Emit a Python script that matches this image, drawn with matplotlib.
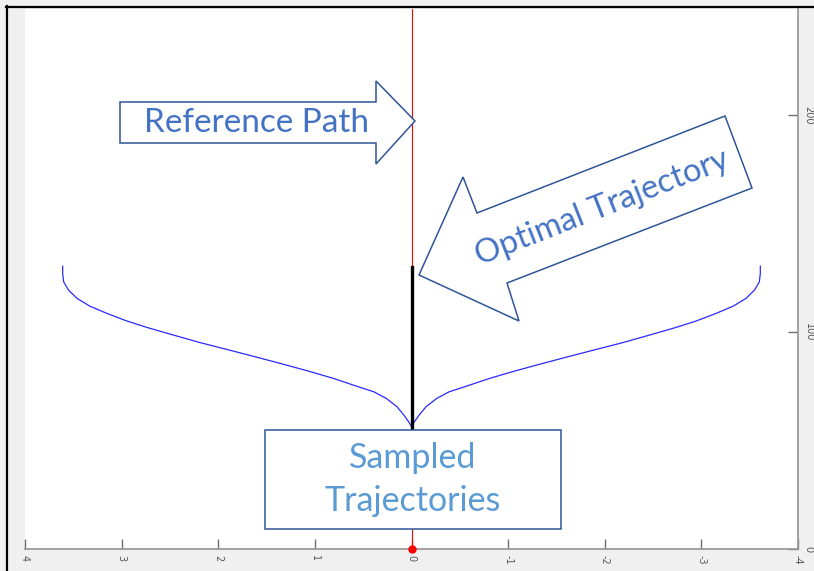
"""Sampling-based planner sketch: reference path, optimal and sampled trajectories."""
import matplotlib
matplotlib.use("Agg")
import matplotlib.pyplot as plt  # noqa: E402
from matplotlib.patches import Polygon, Rectangle  # noqa: E402

# data (lateral offset x, longitudinal distance y)
ref_x = [0, 0]
ref_y = [0, 260]
opt_x = [0, 0]
opt_y = [56, 130]
left_x = [3.61, 3.61, 3.60, 3.55, 3.46, 3.33, 3.15, 2.95, 2.74, 2.46, 2.19, 1.91,
          1.64, 1.36, 1.08, 0.81, 0.57, 0.39, 0.26, 0.15, 0.08, 0.03, 0.0]
left_y = [130.4, 127.0, 123.2, 119.4, 115.5, 112.0, 108.6, 105.2, 102.2, 98.6, 95.2, 92.0,
          88.9, 85.6, 82.2, 78.7, 75.1, 72.5, 69.4, 65.6, 61.8, 58.7, 56.5]
right_x = [-v for v in left_x]
right_y = list(left_y)
x_ticks = [4, 3, 2, 1, 0, -1, -2, -3, -4]
y_ticks = [0, 100, 200]

W, H = 814, 571
fig = plt.figure(figsize=(W / 100, H / 100), dpi=100, facecolor="#f0f0f0")

ax = fig.add_axes([25 / W, (H - 549) / H, (798 - 25) / W, (549 - 9) / H])
ax.set_facecolor("white")
ax.plot(ref_x, ref_y, color="red", lw=0.8, zorder=2)
ax.plot(left_x, left_y, color="#2a2aff", lw=0.9, zorder=2)
ax.plot(right_x, right_y, color="#2a2aff", lw=0.9, zorder=2)
ax.plot(opt_x, opt_y, color="black", lw=2.4, zorder=3)
ax.plot([ref_x[0]], [ref_y[0]], "o", color="red", ms=5, zorder=5, clip_on=False)
ax.set_xlim(4, -4)
ax.set_ylim(0, 249)
ax.set_xticks(x_ticks)
ax.set_xticklabels([str(t) for t in x_ticks], rotation=-90)
ax.yaxis.tick_right()
ax.set_yticks(y_ticks)
ax.set_yticklabels([str(t) for t in y_ticks], rotation=-90, va="center")
ax.tick_params(direction="in", length=7, width=1, color="#707070",
               labelcolor="#555555", labelsize=7, pad=4)
for side in ("top", "left"):
    ax.spines[side].set_visible(False)
for side in ("bottom", "right"):
    ax.spines[side].set_color("#9a9a9a")
    ax.spines[side].set_linewidth(1.3)

# callout shapes drawn in screen pixels on top of the plot
ov = fig.add_axes([0, 0, 1, 1], zorder=10)
ov.set_xlim(0, W)
ov.set_ylim(H, 0)
ov.axis("off")
ov.patch.set_alpha(0)

edge = "#2f5597"
font = "Lato"
ov.add_patch(Polygon([(120, 102), (376, 102), (376, 81), (415, 121), (376, 164),
                      (376, 143), (120, 143)], closed=True, fc="white", ec=edge, lw=1.1))
ov.text(257, 123, "Reference Path", color="#4472c4", fontsize=24, family=font,
        ha="center", va="center")

ov.add_patch(Polygon([(419, 275), (463, 177), (477, 213), (725, 116), (752, 188),
                      (507, 283), (519, 321)], closed=True, fc="white", ec=edge, lw=1.1))
ov.text(602, 208, "Optimal Trajectory", color="#4472c4", fontsize=23.5, family=font,
        ha="center", va="center", rotation=21.4, rotation_mode="anchor")

ov.add_patch(Rectangle((265, 430), 296, 99, fc="white", ec=edge, lw=1.1))
ov.text(413, 458, "Sampled", color="#5b9bd5", fontsize=24.5, family=font,
        ha="center", va="center")
ov.text(413, 501, "Trajectories", color="#5b9bd5", fontsize=24.5, family=font,
        ha="center", va="center")

# screenshot frame
ov.plot([6, W], [6.5, 6.5], color="black", lw=1.6)
ov.plot([6.5, 6.5], [6, H], color="black", lw=1.6)

fig.savefig("out.png", dpi=100, facecolor=fig.get_facecolor())
plt.close(fig)
